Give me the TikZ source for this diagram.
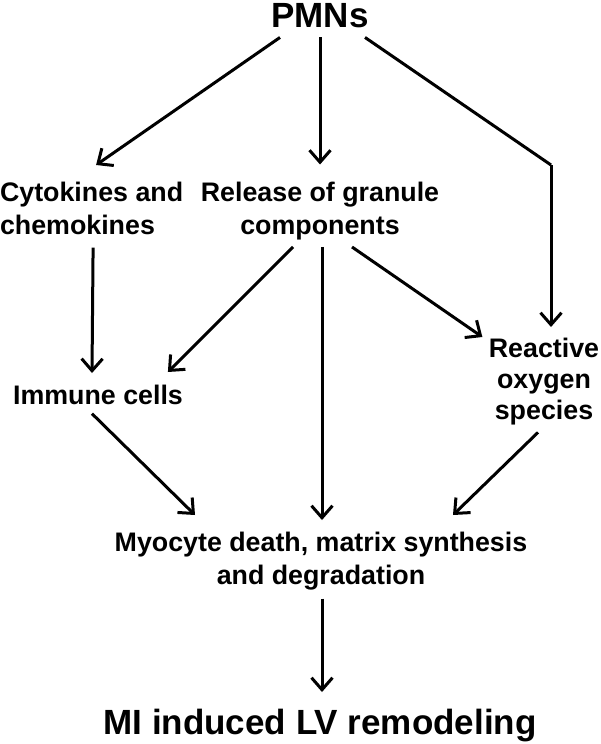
\documentclass[tikz,border=0pt]{standalone}
\usepackage{fontspec}
\setmainfont{Liberation Sans}
\usetikzlibrary{arrows.meta,calc}
\begin{document}
\begin{tikzpicture}[x=1pt,y=-1pt,
  lbl/.style={inner sep=0pt, outer sep=0pt, font=\fontsize{26.8}{33}\selectfont\bfseries},
  big/.style={inner sep=0pt, outer sep=0pt, font=\fontsize{35}{40}\selectfont\bfseries},
  arr/.style={line width=3pt, -{Straight Barb[length=12pt,width=21pt]}},
  seg/.style={line width=3pt}]
\useasboundingbox (0,0) rectangle (600,744);
% nodes
\node[big, anchor=north] (pmn) at (320,3) {PMNs};
\node[lbl, anchor=north west, align=left] (cyto) at (0,182) {Cytokines and\\chemokines};
\node[lbl, anchor=north, align=center] (rel) at (320,182) {Release of granule\\components};
\node[lbl, anchor=north] (imm) at (98,385) {Immune cells};
\node[lbl, anchor=north, align=center, font=\fontsize{26.8}{31}\selectfont\bfseries] (ros) at (544,338) {Reactive\\oxygen\\species};
\node[lbl, anchor=north, align=center] (myo) at (321,532) {Myocyte death, matrix synthesis\\and degradation};
\node[big, anchor=north] (mi) at (320,709) {MI induced LV remodeling};
\coordinate (bend) at (551,165);
% connectors
\draw[arr] ($(pmn.south)+(-40,10)$) -- ($(cyto.north)+(4.5,-17)$);
\draw[arr] ($(pmn.south)+(0,10)$) -- ($(rel.north)+(0,-17.5)$);
\draw[seg] ($(pmn.south)+(45,10)$) -- (bend);
\draw[arr] (bend) -- (bend |- {$(ros.north)+(0,-11)$});
\draw[arr] ($(cyto.south)+(1.5,13)$) -- ($(imm.north)+(-6,-12)$);
\draw[arr] ($(rel.south)+(-27,7)$) -- ($(imm.north east)+(-15,-13)$);
\draw[arr] ($(rel.south)+(2,7)$) -- ($(myo.north)+(1,-12)$);
\draw[arr] ($(rel.south)+(32,7)$) -- ($(ros.north west)+(-6.5,-1)$);
\draw[arr] ($(imm.south)+(-6,9)$) -- ($(myo.north)+(-126,-17)$);
\draw[arr] ($(ros.south)+(-6,7.4)$) -- ($(myo.north)+(132,-17)$);
\draw[arr] ($(myo.south)+(1,8.4)$) -- ($(mi.north)+(2,-17)$);
\end{tikzpicture}
\end{document}
